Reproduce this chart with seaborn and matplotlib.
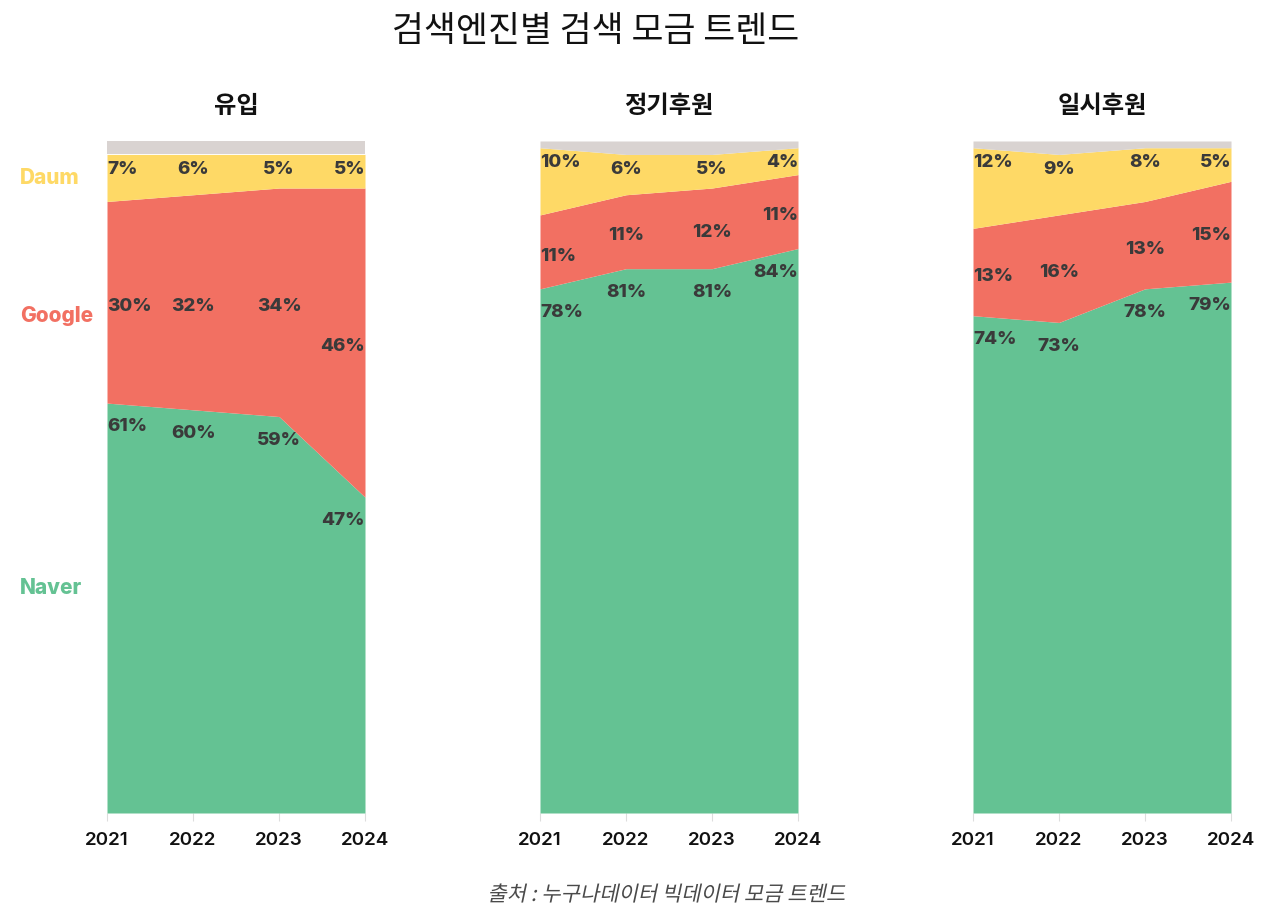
import numpy as np
import seaborn as sns
import matplotlib
matplotlib.use("Agg")
import matplotlib.pyplot as plt
from matplotlib import transforms
from matplotlib.textpath import TextPath
from matplotlib.patches import PathPatch
from matplotlib.font_manager import FontProperties

# Data
years = [2021, 2022, 2023, 2024]
panel_titles = ['유입', '정기후원', '일시후원']
engines = ['Naver', 'Google', 'Daum']

naver_inflow = [61, 60, 59, 47]
google_inflow = [30, 32, 34, 46]
daum_inflow = [7, 6, 5, 5]

naver_regular = [78, 81, 81, 84]
google_regular = [11, 11, 12, 11]
daum_regular = [10, 6, 5, 4]

naver_once = [74, 73, 78, 79]
google_once = [13, 16, 13, 15]
daum_once = [12, 9, 8, 5]

panel_data = [
    (naver_inflow, google_inflow, daum_inflow),
    (naver_regular, google_regular, daum_regular),
    (naver_once, google_once, daum_once),
]

# Style
sns.set_theme(style="white")
plt.rcParams['font.family'] = ['Inter', 'Noto Sans CJK KR', 'DejaVu Sans']
colors = {'Naver': '#64C293', 'Google': '#F27062', 'Daum': '#FED966', 'Other': '#D9D3D1'}
label_color = '#3a3a3a'
kr = ['Noto Sans CJK KR', 'DejaVu Sans']

fig = plt.figure(figsize=(12.8, 9.18), dpi=100)

lefts = [107, 540, 973]
axes = []
for i, (naver, google, daum) in enumerate(panel_data):
    ax = fig.add_axes([lefts[i] / 1280, 1 - 813 / 918, 258 / 1280, 672 / 918])
    axes.append(ax)
    naver = np.array(naver)
    google = np.array(google)
    daum = np.array(daum)
    other = 100 - naver - google - daum
    ax.stackplot(years, naver, google, daum, other,
                 colors=[colors['Naver'], colors['Google'], colors['Daum'], colors['Other']],
                 linewidth=0)
    ax.set_xlim(years[0], years[-1])
    ax.set_ylim(0, 100)
    ax.set_yticks([])
    ax.set_xticks(years)
    ax.set_xticklabels([str(y) for y in years], fontsize=13.5, fontweight='semibold', color='#111111')
    ax.tick_params(axis='x', length=6, width=0.8, color='#dddddd', pad=8, bottom=True)
    for s in ax.spines.values():
        s.set_visible(False)
    ax.set_title(panel_titles[i], fontsize=17.5, fontweight='bold', family=kr, pad=20, color='#111111')

    # value labels
    for j, yr in enumerate(years):
        ha = 'left' if j == 0 else ('right' if j == len(years) - 1 else 'center')
        lab_style = dict(ha=ha, va='center', fontsize=13.5, fontweight='heavy', color=label_color)
        ax.annotate(f"{naver[j]}%", (yr, naver[j]), xytext=(0, -17), textcoords='offset points', **lab_style)
        ax.annotate(f"{google[j]}%", (yr, naver[j] + google[j] / 2), xytext=(0, -3),
                    textcoords='offset points', **lab_style)
        ax.annotate(f"{daum[j]}%", (yr, naver[j] + google[j] + daum[j]), xytext=(0, -11),
                    textcoords='offset points', **lab_style)

# engine labels on the left, next to the first panel
ax0 = axes[0]
trans = transforms.blended_transform_factory(fig.transFigure, ax0.transData)
n0, g0, d0 = panel_data[0][0][0], panel_data[0][1][0], panel_data[0][2][0]
mids = {'Naver': n0 / 2 + 3, 'Google': n0 + g0 / 2 - 2, 'Daum': n0 + g0 + d0 / 2}
for name in engines:
    ax0.text(20 / 1280, mids[name], name, transform=trans, ha='left', va='center',
             fontsize=15, fontweight='heavy', color=colors[name])

fig.text(596 / 1280, 1 - 32 / 918, '검색엔진별 검색 모금 트렌드', ha='center', va='center',
         fontsize=25, fontweight='medium', family=kr, color='#111111')

# source note, slanted like an italic
src = '출처 : 누구나데이터 빅데이터 모금 트렌드'
tp = TextPath((0, 0), src, size=21, prop=FontProperties(family='Noto Sans CJK KR'))
ext = tp.get_extents()
cx, cy = 668, 918 - 893
tr = (transforms.Affine2D()
      .translate(-(ext.x0 + ext.x1) / 2, -(ext.y0 + ext.y1) / 2)
      .skew_deg(12, 0)
      .translate(cx, cy))
fig.add_artist(PathPatch(tr.transform_path(tp), transform=transforms.IdentityTransform(),
                         facecolor='#4a4a4a', edgecolor='none'))

fig.savefig('out.png', dpi=100)
